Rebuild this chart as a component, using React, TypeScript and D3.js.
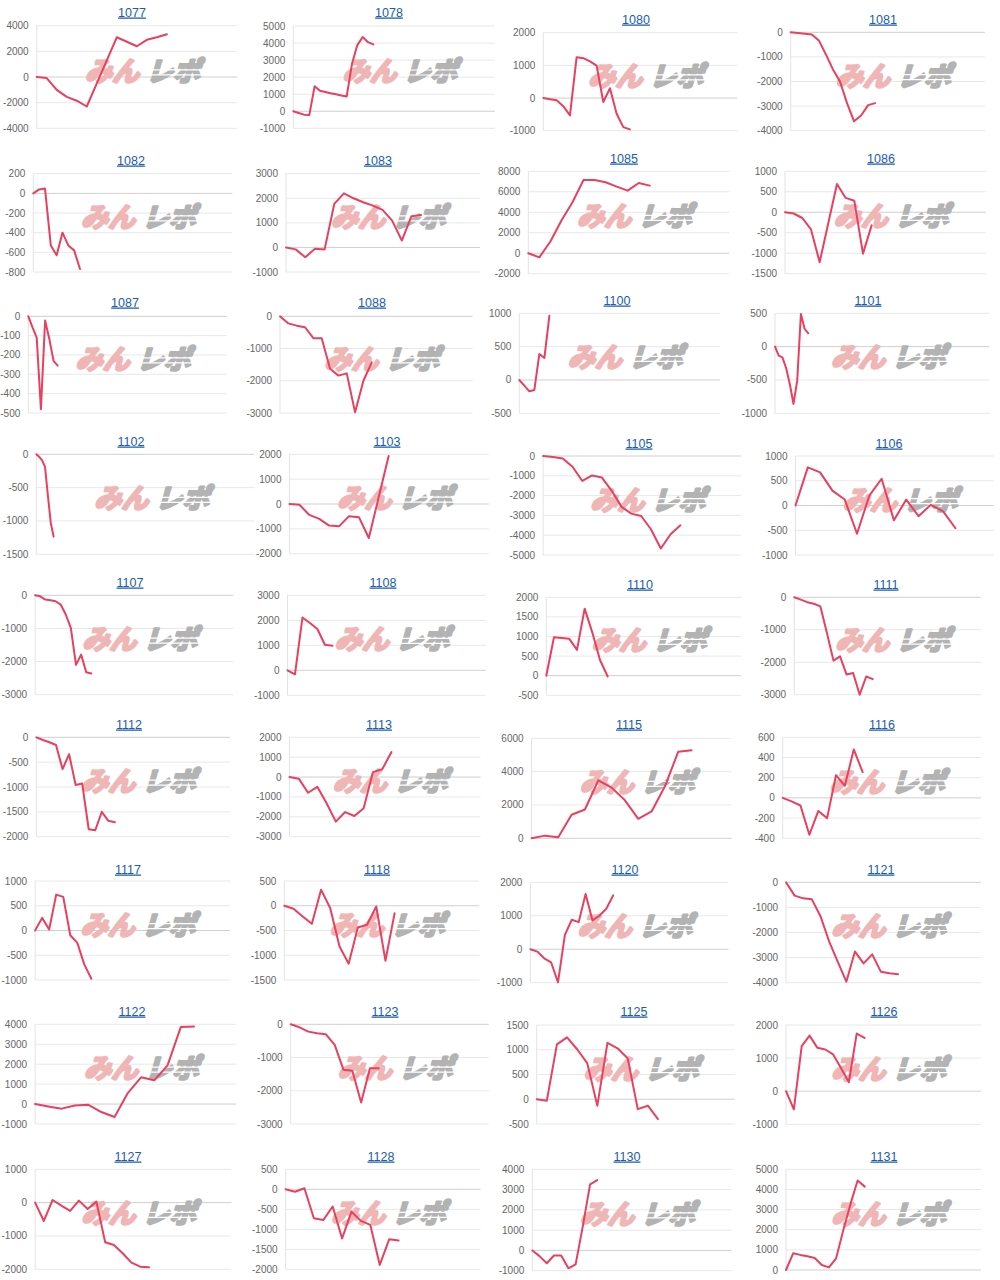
import React from 'react';
import * as d3 from 'd3';

// ---------- DATA ----------
const panelIds: string[] = [
  '1077', '1078', '1080', '1081',
  '1082', '1083', '1085', '1086',
  '1087', '1088', '1100', '1101',
  '1102', '1103', '1105', '1106',
  '1107', '1108', '1110', '1111',
  '1112', '1113', '1115', '1116',
  '1117', '1118', '1120', '1121',
  '1122', '1123', '1125', '1126',
  '1127', '1128', '1130', '1131',
];

const series: number[][] = [
  [0, -80, -1000, -1550, -1850, -2300, -500, 1300, 3100, 2750, 2400, 2900, 3100, 3330],
  [0, -100, -200, -220, 1470, 1200, 1130, 1060, 1000, 920, 860, 2780, 3880, 4350, 4050, 3920],
  [0, -35, -70, -250, -530, 1250, 1220, 1120, 990, -120, 300, -480, -890, -960],
  [0, -30, -60, -90, -330, -900, -1510, -2000, -2880, -3620, -3380, -2960, -2880],
  [0, 40, 50, -530, -630, -400, -530, -580, -770],
  [0, -80, -400, -50, -80, 1770, 2200, 2000, 1840, 1700, 1530, 1090, 280, 1270, 1320],
  [0, -400, 1140, 3190, 4980, 7150, 7150, 6930, 6500, 6110, 6860, 6600],
  [0, -30, -140, -420, -1220, -260, 690, 350, 280, -1010, -320],
  [0, -57, -110, -480, -22, -117, -230, -255],
  [0, -220, -290, -340, -680, -680, -1630, -1840, -1770, -2980, -2000, -1430],
  [0, -85, -170, -150, 390, 330, 965],
  [0, -135, -160, -320, -560, -860, -510, 490, 265, 200],
  [0, -40, -90, -190, -620, -1030, -1235],
  [0, -30, -440, -600, -870, -900, -490, -530, -1370, 280, 1930],
  [0, -50, -130, -540, -1260, -980, -1090, -1760, -2570, -2910, -3030, -3700, -4670, -3950, -3500],
  [0, 770, 670, 300, 120, -570, 200, 540, -300, 120, -215, 15, -120, -460],
  [0, -30, -130, -150, -180, -280, -580, -990, -2100, -1790, -2320, -2360],
  [0, -160, 2110, 1890, 1650, 1020, 980],
  [0, 980, 960, 940, 660, 1710, 1100, 400, -20],
  [0, -70, -150, -200, -280, -1100, -1950, -1820, -2380, -2330, -3000, -2440, -2520],
  [0, -55, -100, -155, -640, -340, -960, -930, -1850, -1870, -1500, -1680, -1710],
  [0, -80, -790, -490, -1320, -2240, -1760, -1960, -1570, 250, 390, 1260],
  [0, 160, 60, 1410, 1730, 3480, 3040, 2280, 1170, 1610, 3120, 5200, 5280],
  [0, -35, -75, -365, -130, -200, 225, 120, 480, 255],
  [0, 255, 20, 725, 680, -95, -250, -690, -975],
  [0, -60, -215, -365, 325, -50, -820, -1170, -440, -385, -15, -1110, -150],
  [0, -70, -270, -390, -990, 430, 880, 810, 1650, 860, 1000, 1210, 1610],
  [0, -530, -640, -680, -1350, -2350, -3160, -3960, -2760, -3230, -2870, -3560, -3620, -3660],
  [0, -120, -230, -70, -30, -400, -650, 550, 1340, 1190, 1940, 3860, 3890],
  [0, -90, -220, -270, -300, -620, -1370, -1400, -2350, -1320, -1320],
  [0, -30, 1110, 1250, 1010, 730, -130, 1140, 1030, 830, -200, -130, -400],
  [0, -550, 1360, 1680, 1310, 1260, 1110, 700, 270, 1740, 1610],
  [0, -550, 80, -90, -250, 60, -190, 30, -1190, -1270, -1520, -1800, -1920, -1940],
  [0, -60, 25, -725, -770, -430, -1230, -560, -790, -890, -1890, -1250, -1280],
  [0, -280, -630, -250, -250, -880, -690, 1200, 3260, 3470],
  [0, 830, 750, 680, 600, 250, 130, 580, 1980, 3270, 4440, 4140],
];

// number of x slots across each panel's width (x domain length)
const xSlots: number[] = [
  20, 37.8, 29.1, 27.6,
  34.1, 20.1, 18.2, 23.2,
  47.2, 23.1, 40, 57.9,
  75.8, 20.1, 20.2, 16.1,
  38.75, 26.5, 25.4, 28.5,
  29.6, 20.6, 15.0, 22.3,
  27.7, 21.2, 28.7, 22.6,
  15.2, 22.5, 19.6, 24.8,
  22.4, 20.7, 27.6, 27.2,
];

// y axis tick ranges
const yMins: number[] = [
  -4000, -1000, -1000, -4000,
  -800, -1000, -2000, -1500,
  -500, -3000, -500, -1000,
  -1500, -2000, -5000, -1000,
  -3000, -1000, -500, -3000,
  -2000, -3000, 0, -400,
  -1000, -1500, -1000, -4000,
  -1000, -3000, -500, -1000,
  -2000, -2000, -1000, 0,
];
const yMaxs: number[] = [
  4000, 5000, 2000, 0,
  200, 3000, 8000, 1000,
  0, 0, 1000, 500,
  0, 2000, 0, 1000,
  0, 3000, 2000, 0,
  0, 2000, 6000, 600,
  1000, 500, 2000, 0,
  4000, 0, 1500, 2000,
  1000, 500, 4000, 5000,
];
const ySteps: number[] = [
  2000, 1000, 1000, 1000,
  200, 1000, 2000, 500,
  100, 1000, 500, 500,
  500, 1000, 1000, 500,
  1000, 1000, 500, 1000,
  500, 1000, 2000, 200,
  500, 500, 1000, 1000,
  1000, 1000, 500, 1000,
  1000, 500, 1000, 1000,
];

// ---------- LAYOUT (plot boxes: left, right, top, bottom, titleX, titleY) ----------
const boxes: number[][] = [
  [36.7, 237, 25.7, 128.3, 132, 12],
  [293.3, 495, 26, 128.3, 389, 12],
  [543.3, 737.3, 32.7, 130.7, 636, 19],
  [790.7, 985, 32.3, 130.7, 883, 19],
  [33.3, 232.3, 173.7, 272, 131, 160],
  [286, 480, 173.7, 272, 378, 160],
  [528.3, 729.3, 171.3, 273.7, 624, 158],
  [785, 986, 171.3, 273.7, 881, 158],
  [28.3, 226.7, 316.3, 413, 125, 302],
  [280, 472.7, 316.3, 413, 372, 302],
  [519.3, 720, 313.3, 413.3, 617, 300],
  [775, 989.3, 313.3, 413.3, 868, 300],
  [36.4, 254.3, 454.3, 554.3, 131, 441],
  [289.5, 488.8, 454.3, 553.7, 387, 441],
  [543.1, 741.2, 456, 555, 639, 443],
  [795.5, 993.6, 456, 555, 889, 443],
  [35.1, 233.2, 595.3, 694.7, 130, 582],
  [287.5, 485.6, 595.3, 695.3, 383, 582],
  [546.3, 741.2, 597.3, 695.3, 640, 584],
  [794.2, 980.8, 597.3, 694.7, 886, 584],
  [36.4, 230, 737.3, 836.7, 129, 724],
  [289.5, 480.5, 737.3, 836.7, 379, 724],
  [531.6, 731.6, 738.3, 838.3, 629, 724],
  [782.7, 980.8, 737.3, 838.3, 882, 724],
  [35.1, 230, 881, 980, 128, 869],
  [284.3, 479.2, 881, 980, 377, 869],
  [530.4, 728.4, 882.3, 982.7, 625, 869],
  [786, 980.8, 882.3, 982.7, 881, 869],
  [35.1, 236.4, 1024.3, 1124, 132, 1011],
  [290.7, 488.8, 1024.3, 1124, 385, 1011],
  [536.7, 734.8, 1025, 1124, 634, 1011],
  [786, 980.8, 1025, 1124.3, 884, 1011],
  [35.1, 231.3, 1169.3, 1269.3, 128, 1156],
  [285.6, 480.5, 1169.3, 1269.3, 381, 1156],
  [532.3, 731.6, 1169.3, 1270.7, 627, 1156],
  [786, 980.8, 1169.3, 1270, 884, 1156],
];

const LINE_COLOR = '#e8405f';
const FONT = '"Liberation Sans", Arial, Helvetica, sans-serif';
const WM_FONT = '"Noto Sans CJK JP", "Noto Sans CJK SC", sans-serif';

function Watermark({ cx, cy }: { cx: number; cy: number }) {
  return (
    <g transform={`translate(${cx},${cy}) skewX(-16)`} style={{ pointerEvents: 'none' }}>
      <text
        x={-3}
        y={10}
        textAnchor="end"
        fontSize={27}
        fontWeight={700}
        fontFamily={WM_FONT}
        fill="#f0b5b5"
        stroke="#f0b5b5"
        strokeWidth={2.6}
        strokeLinejoin="round"
      >
        みん
      </text>
      <text
        x={4}
        y={10}
        textAnchor="start"
        fontSize={27}
        fontWeight={700}
        fontFamily={WM_FONT}
        fill="#b3b3b3"
        stroke="#b3b3b3"
        strokeWidth={2.6}
        strokeLinejoin="round"
      >
        レポ
      </text>
      <line x1={6} x2={64} y1={-1} y2={-1} stroke="#fff" strokeWidth={1.2} />
      <line x1={6} x2={64} y1={4} y2={4} stroke="#fff" strokeWidth={1.2} />
    </g>
  );
}

function Panel({ i }: { i: number }) {
  const [L, R, T, B, tx, ty] = boxes[i];
  const x = d3.scaleLinear().domain([0, xSlots[i]]).range([L, R]);
  const y = d3.scaleLinear().domain([yMins[i], yMaxs[i]]).range([B, T]);
  const ticks = d3.range(yMins[i], yMaxs[i] + ySteps[i] / 2, ySteps[i]);
  const line = d3
    .line<number>()
    .x((_, j) => x(j))
    .y((d) => y(d));
  const cx = L + (R - L) * 0.54;
  const cy = T + (B - T) * 0.44;
  return (
    <g>
      <text
        x={tx}
        y={ty + 4.5}
        textAnchor="middle"
        fontSize={12.5}
        fontFamily={FONT}
        fill="#1a5cb0"
        textDecoration="underline"
      >
        {panelIds[i]}
      </text>
      {ticks.map((t) => (
        <g key={t}>
          <line
            x1={L}
            x2={R}
            y1={y(t)}
            y2={y(t)}
            stroke={t === 0 ? '#cfcfcf' : '#e8e8e8'}
            strokeWidth={1}
          />
          <text
            x={L - 8}
            y={y(t)}
            dy="0.35em"
            textAnchor="end"
            fontSize={10}
            fontFamily={FONT}
            fill="#666"
          >
            {t}
          </text>
        </g>
      ))}
      <line x1={L} x2={L} y1={T} y2={B} stroke="#e3e3e3" strokeWidth={1} />
      <Watermark cx={cx} cy={cy} />
      <path
        d={line(series[i]) || ''}
        fill="none"
        stroke={LINE_COLOR}
        strokeWidth={2}
        strokeLinejoin="round"
        strokeLinecap="round"
      />
    </g>
  );
}

export default function App() {
  return (
    <div style={{ position: 'absolute', left: 0, top: 0, width: 1000, height: 1280, background: '#fff' }}>
      <svg width={1000} height={1280} style={{ display: 'block' }}>
        <rect width={1000} height={1280} fill="#fff" />
        {panelIds.map((_, i) => (
          <Panel key={i} i={i} />
        ))}
      </svg>
    </div>
  );
}
